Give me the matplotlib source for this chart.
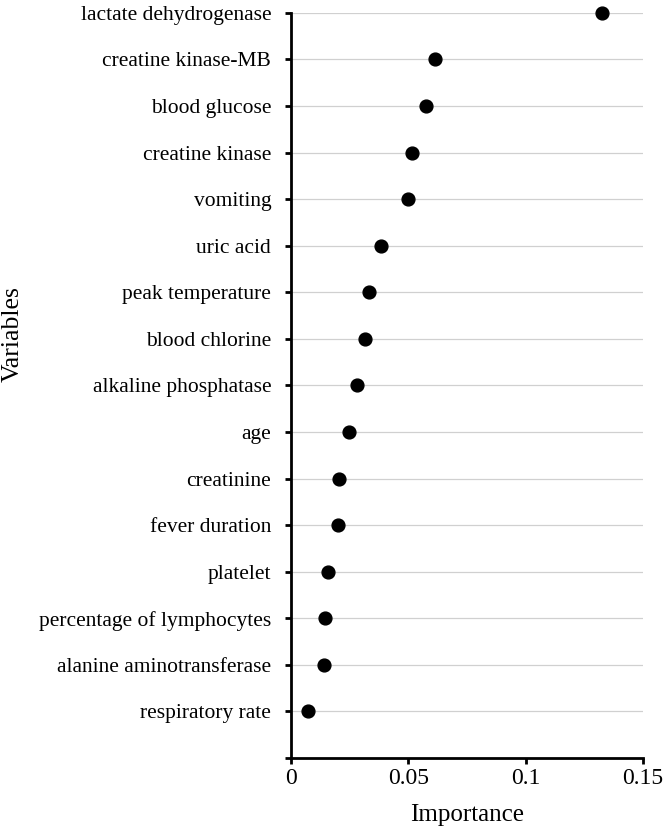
import matplotlib
matplotlib.use("Agg")
import matplotlib.pyplot as plt

# variables from bottom to top
variables = [
    "respiratory rate",
    "alanine aminotransferase",
    "percentage of lymphocytes",
    "platelet",
    "fever duration",
    "creatinine",
    "age",
    "alkaline phosphatase",
    "blood chlorine",
    "peak temperature",
    "uric acid",
    "vomiting",
    "creatine kinase",
    "blood glucose",
    "creatine kinase-MB",
    "lactate dehydrogenase",
]
importance = [
    0.0074, 0.0139, 0.0143, 0.0159, 0.0202, 0.0206, 0.0247, 0.0281,
    0.0314, 0.0332, 0.0383, 0.0497, 0.0516, 0.0577, 0.0612, 0.1327,
]
x_ticks = [0, 0.05, 0.1, 0.15]
x_tick_labels = ["0", "0.05", "0.1", "0.15"]

plt.rcParams["font.family"] = ["Liberation Serif", "DejaVu Serif"]

fig = plt.figure(figsize=(6.66, 8.32), dpi=100)
ax = fig.add_axes([0.437, 0.089, 0.5285, 0.8955])

pos = list(range(1, len(variables) + 1))
ax.scatter(importance, pos, s=85, color="black", zorder=3, clip_on=False)

# light horizontal gridlines at each category
for p in pos:
    ax.axhline(p, color="#d0d0d0", lw=0.9, zorder=1)

ax.set_xlim(0, 0.15)
ax.set_ylim(0, len(variables))
ax.set_xticks(x_ticks)
ax.set_xticklabels(x_tick_labels, fontsize=17)
ax.set_yticks(range(0, len(variables) + 1))
ax.set_yticklabels([""] + variables, fontsize=15.5)

for side in ["top", "right"]:
    ax.spines[side].set_visible(False)
for side in ["left", "bottom"]:
    ax.spines[side].set_linewidth(2)

ax.tick_params(axis="both", direction="out", length=4.3, width=2, color="black")
ax.tick_params(axis="y", pad=10)
ax.tick_params(axis="x", pad=3)

ax.set_xlabel("Importance", fontsize=18, labelpad=11)
fig.text(13 / 666, 1 - 334 / 832, "Variables", rotation=90, fontsize=18.5,
         ha="center", va="center")

fig.savefig("out.png", dpi=100, facecolor="white")
